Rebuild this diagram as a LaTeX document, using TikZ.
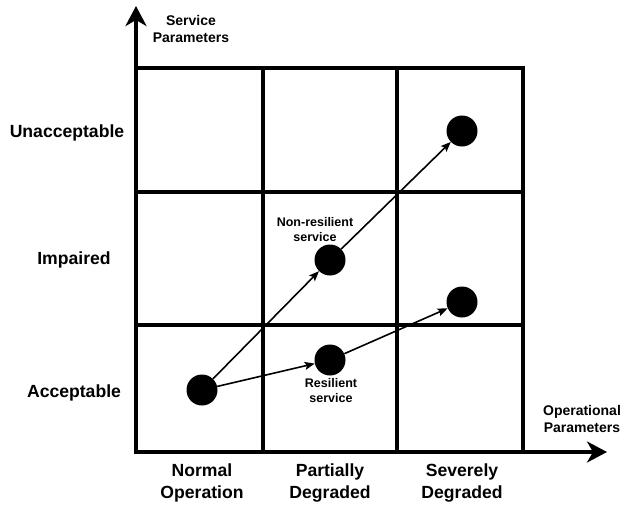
\documentclass[tikz,border=0pt]{standalone}
\usepackage{fontspec}
\setmainfont{Liberation Sans}
\usetikzlibrary{arrows.meta}
\begin{document}
\begin{tikzpicture}[x=1pt,y=-1pt,
 dot/.style={circle,fill=black,minimum size=31pt,inner sep=0pt},
 gridline/.style={line width=4pt},
 axis/.style={line width=4pt,-{Stealth[length=20pt,width=21pt,inset=6pt]}},
 conn/.style={line width=1.6pt,-{Stealth[length=10pt,width=8pt,inset=2pt]}},
 big/.style={font=\bfseries\fontsize{17.6}{22}\selectfont,align=center},
 small/.style={font=\bfseries\fontsize{12.5}{15}\selectfont,align=center},
 mid/.style={font=\bfseries\fontsize{14}{17}\selectfont,align=center}]
\useasboundingbox (0,0) rectangle (624,504);
% grid
\draw[gridline] (136,68) rectangle (523,452);
\draw[gridline] (263,68) -- (263,452);
\draw[gridline] (397,68) -- (397,452);
\draw[gridline] (136,192) -- (523,192);
\draw[gridline] (136,325) -- (523,325);
% axes
\coordinate (o) at (136,452);
\coordinate (ytop) at (136,6);
\coordinate (xend) at (607,452);
\draw[axis] (o) -- (ytop);
\draw[axis] (o) -- (xend);
% axis labels
\node[mid] (sp) at (191,29) {Service\\Parameters};
\node[mid] (op) at (582,419) {Operational\\Parameters};
% row labels
\node[big] (unacc) at (67,133) {Unacceptable};
\node[big] (imp) at (74,260) {Impaired};
\node[big] (acc) at (74,393) {Acceptable};
% column labels
\node[big] (normal) at (202,483) {Normal\\Operation};
\node[big] (partial) at (330,483) {Partially\\Degraded};
\node[big] (severe) at (462,483) {Severely\\Degraded};
% dots
\node[dot] (a) at (202,390) {};
\node[dot] (n) at (330,260) {};
\node[dot] (t) at (462,131) {};
\node[dot] (r) at (330,360) {};
\node[dot] (l) at (462,302) {};
% connectors
\draw[conn] (a) -- (n);
\draw[conn] (n) -- (t);
\draw[conn] (a) -- (r);
\draw[conn] (r) -- (l);
% labels
\node[small] (nrlab) at (315,230) {Non-resilient\\service};
\node[small] (rlab) at (331,391) {Resilient\\service};
\end{tikzpicture}
\end{document}
